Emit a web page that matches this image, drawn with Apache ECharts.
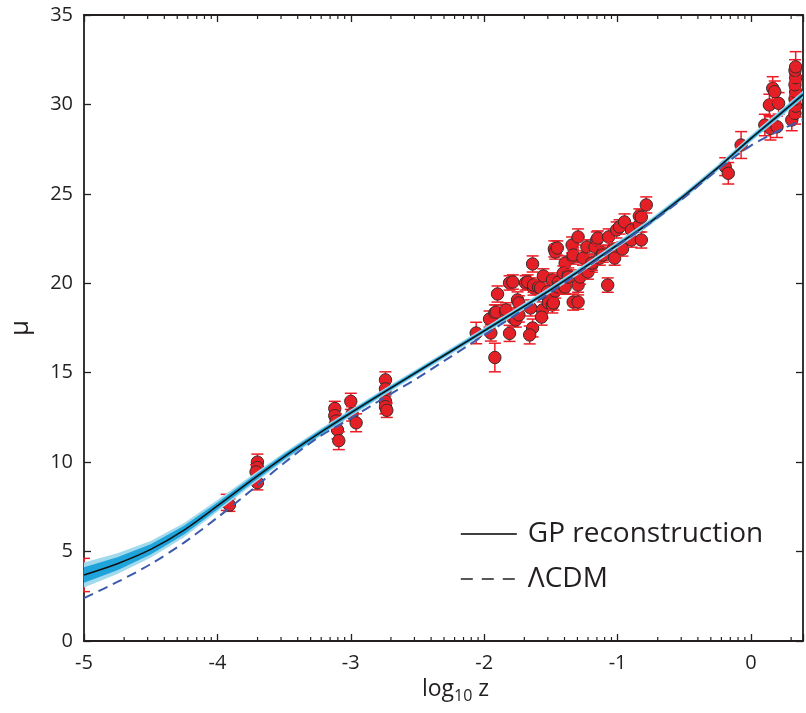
<!DOCTYPE html>
<html>
<head>
<meta charset="utf-8">
<title>GP reconstruction of mu(z)</title>
<script src="https://cdn.jsdelivr.net/npm/echarts@6.0.0/dist/echarts.min.js"></script>
<style>
  html, body { margin: 0; padding: 0; background: #fff; }
  #chart { width: 806px; height: 713px; }
</style>
</head>
<body>
<div id="chart"></div>
<script>
// curve sample positions (log10 z)
var curveX = [-5, -4.75, -4.5, -4.25, -4, -3.75, -3.5, -3.25, -3, -2.75, -2.5, -2.25, -2,
  -1.75, -1.5, -1.25, -1, -0.75, -0.5, -0.25, 0, 0.2, 0.39]
// GP mean and half widths of the 1 and 2 sigma bands
var gpMean = [3.69, 4.32, 5.12, 6.2, 7.55, 8.95, 10.3, 11.55, 12.75, 13.92, 15.06, 16.2, 17.34,
  18.48, 19.65, 20.88, 22.15, 23.45, 24.9, 26.45, 28.1, 29.35, 30.55]
var gpSig1 = [0.43, 0.36, 0.29, 0.25, 0.2, 0.17, 0.15, 0.13, 0.12, 0.11, 0.1, 0.1, 0.1,
  0.1, 0.1, 0.1, 0.1, 0.1, 0.1, 0.1, 0.11, 0.12, 0.13]
var gpSig2 = [0.7, 0.58, 0.47, 0.4, 0.33, 0.28, 0.24, 0.22, 0.2, 0.19, 0.18, 0.18, 0.18,
  0.18, 0.18, 0.18, 0.18, 0.18, 0.18, 0.18, 0.19, 0.2, 0.21]
// LCDM curve
var lcdm = [2.4, 3.3, 4.3, 5.5, 6.9, 8.4, 9.95, 11.35, 12.45, 13.6, 14.7, 15.9, 17.1,
  18.3, 19.5, 20.8, 22.1, 23.4, 24.8, 26.35, 27.7, 28.5, 29.15]

// observations: [log10 z, mu, error]
var obsData = [
  [-5.0, 3.69, 0.93],
  [-3.93, 7.75, 0.45], [-3.91, 7.6, 0.35],
  [-3.70, 10.0, 0.45], [-3.70, 9.7, 0.4], [-3.71, 9.45, 0.4], [-3.70, 8.85, 0.4],
  [-3.12, 13.0, 0.4], [-3.12, 12.6, 0.4], [-3.11, 12.3, 0.4], [-3.10, 11.8, 0.5], [-3.09, 11.2, 0.5],
  [-3.0, 13.4, 0.45], [-2.99, 12.7, 0.4], [-2.96, 12.2, 0.5],
  [-2.74, 14.6, 0.45], [-2.74, 14.1, 0.4], [-2.74, 13.4, 0.4], [-2.74, 13.1, 0.4], [-2.73, 12.9, 0.4],
  [-2.06, 17.22, 0.6], [-1.95, 17.22, 0.45], [-1.92, 15.85, 0.8], [-1.96, 18.0, 0.45],
  [-1.92, 18.34, 0.45], [-1.91, 18.39, 0.4], [-1.90, 19.4, 0.45], [-1.81, 17.2, 0.45],
  [-1.81, 20.02, 0.4], [-1.785, 20.07, 0.4], [-1.84, 18.39, 0.4], [-1.837, 18.51, 0.4],
  [-1.785, 18.06, 0.45], [-1.763, 17.95, 0.4], [-1.75, 19.07, 0.45], [-1.74, 18.23, 0.4],
  [-1.74, 18.9, 0.4], [-1.69, 20.02, 0.4], [-1.674, 20.07, 0.4], [-1.637, 21.08, 0.45],
  [-1.652, 18.62, 0.45], [-1.637, 17.5, 0.5], [-1.659, 17.11, 0.5], [-1.63, 19.74, 0.4],
  [-1.63, 19.9, 0.4], [-1.593, 19.79, 0.4], [-1.578, 19.74, 0.4], [-1.563, 18.51, 0.45],
  [-1.57, 18.11, 0.45], [-1.556, 20.41, 0.4], [-1.526, 19.51, 0.4], [-1.519, 19.18, 0.4],
  [-1.519, 18.9, 0.4], [-1.489, 20.18, 0.4], [-1.489, 18.79, 0.45], [-1.481, 18.9, 0.4],
  [-1.467, 19.57, 0.4], [-1.474, 21.92, 0.45], [-1.467, 21.75, 0.4], [-1.452, 21.97, 0.4],
  [-1.444, 20.07, 0.4], [-1.444, 19.79, 0.4], [-1.40, 19.85, 0.4], [-1.393, 21.13, 0.4],
  [-1.407, 20.57, 0.4], [-1.393, 19.79, 0.4], [-1.37, 20.46, 0.4], [-1.37, 20.35, 0.4],
  [-1.341, 22.14, 0.45], [-1.333, 21.47, 0.4], [-1.333, 21.58, 0.4], [-1.333, 18.95, 0.45],
  [-1.296, 22.59, 0.45], [-1.296, 19.9, 0.4], [-1.296, 18.95, 0.4], [-1.281, 20.35, 0.4],
  [-1.259, 21.41, 0.4], [-1.23, 22.03, 0.4], [-1.222, 20.63, 0.4], [-1.193, 21.02, 0.4],
  [-1.193, 21.13, 0.4], [-1.17, 22.03, 0.4], [-1.156, 22.42, 0.45], [-1.148, 22.53, 0.4],
  [-1.133, 21.41, 0.4], [-1.111, 21.69, 0.4], [-1.111, 21.58, 0.4], [-1.074, 19.9, 0.4],
  [-1.067, 22.59, 0.45], [-1.037, 21.86, 0.4], [-1.022, 21.41, 0.4], [-1.007, 22.98, 0.45],
  [-0.985, 23.15, 0.4], [-0.963, 21.92, 0.4], [-0.948, 23.43, 0.45], [-0.896, 22.42, 0.4],
  [-0.896, 22.98, 0.4], [-0.837, 23.26, 0.4], [-0.837, 23.76, 0.4], [-0.822, 22.42, 0.45],
  [-0.822, 23.7, 0.4], [-0.785, 24.38, 0.45],
  [-0.193, 26.52, 0.5], [-0.170, 26.15, 0.6], [-0.074, 27.73, 0.75],
  [0.104, 28.85, 0.6], [0.146, 28.66, 0.65], [0.195, 28.75, 0.6], [0.138, 29.97, 0.6],
  [0.207, 30.06, 0.6], [0.163, 30.9, 0.65], [0.178, 30.71, 0.6],
  [0.306, 29.13, 0.6], [0.33, 29.5, 0.6], [0.335, 29.9, 0.6], [0.33, 30.3, 0.6],
  [0.335, 30.7, 0.6], [0.33, 31.1, 0.6], [0.335, 31.5, 0.6], [0.33, 31.9, 0.6], [0.335, 32.1, 0.85]
]

// axis settings
var xMin = -5, xMax = 0.39
var yMin = 0, yMax = 35
var decades = [-5, -4, -3, -2, -1, 0]
var minorMult = [2, 3, 4, 5, 6, 7, 8, 9]

var ink = '#231f20'
var font = '"Open Sans", "Noto Sans", sans-serif'
var smooth = 0.3

// log style minor ticks on the x axes
var minorTicks = []
decades.forEach(function (d) {
  minorMult.forEach(function (m) {
    var v = d + Math.log10(m)
    if (v < xMax) minorTicks.push([v])
  })
})

function pair(arr) {
  return curveX.map(function (x, i) { return [x, arr[i]] })
}
var lo2 = gpMean.map(function (m, i) { return m - gpSig2[i] })
var hi2 = gpMean.map(function (m, i) { return m + gpSig2[i] })
var lo1 = gpMean.map(function (m, i) { return m - gpSig1[i] })
var hi1 = gpMean.map(function (m, i) { return m + gpSig1[i] })

// confidence band as one polygon, drawn from the first item
function bandSeries(name, lo, hi, color) {
  return {
    name: name,
    type: 'custom',
    silent: true,
    clip: true,
    data: curveX.map(function (x, i) { return [x, lo[i], hi[i]] }),
    renderItem: function (params, api) {
      if (params.dataIndex !== 0) return null
      var upper = [], lower = []
      for (var i = 0; i < curveX.length; i++) {
        upper.push(api.coord([curveX[i], hi[i]]))
        lower.unshift(api.coord([curveX[i], lo[i]]))
      }
      return {
        type: 'polygon',
        shape: { points: upper.concat(lower) },
        style: { fill: color }
      }
    }
  }
}

var chart = echarts.init(document.getElementById('chart'))

var axisLineStyle = { color: ink, width: 1.8 }
var tickStyle = { color: ink, width: 1.3 }

var option = {
  animation: false,
  backgroundColor: '#fff',
  textStyle: { fontFamily: font, color: ink },
  grid: { left: 83, top: 15, width: 728, height: 626 },
  legend: {
    left: 455,
    top: 515,
    orient: 'vertical',
    itemWidth: 56,
    itemHeight: 14,
    itemGap: 17,
    textStyle: { fontSize: 28, color: ink, fontFamily: font, padding: [0, 0, 0, 6] },
    data: [
      { name: 'GP reconstruction', itemStyle: { opacity: 0 }, lineStyle: { color: '#000', width: 1.6, type: 'solid' } },
      { name: 'ΛCDM', itemStyle: { opacity: 0 }, lineStyle: { color: ink, width: 1.6, type: [12, 9] } }
    ]
  },
  xAxis: [
    {
      type: 'value',
      min: xMin,
      max: xMax,
      interval: 1,
      axisLine: { onZero: false, lineStyle: axisLineStyle },
      axisTick: { inside: true, length: 7, lineStyle: tickStyle },
      axisLabel: {
        fontSize: 20,
        color: ink,
        margin: 12,
        formatter: function (v) { return Number.isInteger(v) ? String(v) : '' }
      },
      splitLine: { show: false },
      name: 'log{sub|10} z',
      nameLocation: 'middle',
      nameGap: 33,
      nameTextStyle: {
        fontSize: 23,
        color: ink,
        padding: [0, 0, 0, 24],
        rich: { sub: { fontSize: 16, color: ink, padding: [14, 0, 0, 0] } }
      }
    },
    {
      type: 'value',
      position: 'top',
      min: xMin,
      max: xMax,
      interval: 1,
      axisLine: { onZero: false, lineStyle: axisLineStyle },
      axisTick: { inside: true, length: 7, lineStyle: tickStyle },
      axisLabel: { show: false },
      splitLine: { show: false }
    }
  ],
  yAxis: [
    {
      type: 'value',
      min: yMin,
      max: yMax,
      interval: 5,
      axisLine: { show: true, onZero: false, lineStyle: axisLineStyle },
      axisTick: { show: true, inside: true, length: 7, lineStyle: tickStyle },
      axisLabel: { fontSize: 20, color: ink, margin: 11 },
      splitLine: { show: false },
      name: 'μ',
      nameLocation: 'middle',
      nameGap: 50,
      nameTextStyle: { fontSize: 26, color: ink }
    },
    {
      type: 'value',
      position: 'right',
      min: yMin,
      max: yMax,
      interval: 5,
      axisLine: { show: true, onZero: false, lineStyle: axisLineStyle },
      axisTick: { show: true, inside: true, length: 7, lineStyle: tickStyle },
      axisLabel: { show: false },
      splitLine: { show: false }
    }
  ],
  series: [
    {
      // data points with error bars
      name: 'obs',
      type: 'custom',
      clip: true,
      silent: true,
      data: obsData,
      renderItem: function (params, api) {
        var x = api.value(0), y = api.value(1), e = api.value(2)
        var c = api.coord([x, y])
        var t = api.coord([x, y + e])
        var b = api.coord([x, y - e])
        var bar = { stroke: '#ed1c24', lineWidth: 1.5 }
        return {
          type: 'group',
          children: [
            { type: 'line', shape: { x1: c[0], y1: t[1], x2: c[0], y2: b[1] }, style: bar },
            { type: 'line', shape: { x1: c[0] - 6, y1: t[1], x2: c[0] + 6, y2: t[1] }, style: bar },
            { type: 'line', shape: { x1: c[0] - 6, y1: b[1], x2: c[0] + 6, y2: b[1] }, style: bar },
            { type: 'circle', shape: { cx: c[0], cy: c[1], r: 6.2 }, style: { fill: '#e41f26', stroke: '#3a2c2c', lineWidth: 1 } }
          ]
        }
      }
    },
    bandSeries('band2', lo2, hi2, '#a3d9ec'),
    bandSeries('band1', lo1, hi1, '#1ea3da'),
    {
      name: 'GP reconstruction', type: 'line', data: pair(gpMean), symbol: 'none', smooth: smooth,
      lineStyle: { color: '#111', width: 1.5 }
    },
    {
      name: 'ΛCDM', type: 'line', data: pair(lcdm), symbol: 'none', smooth: smooth,
      lineStyle: { color: '#3b5aab', width: 2, type: [10, 6] }
    },
    {
      // minor ticks, bottom and top
      name: 'minor', type: 'custom', silent: true, clip: false, data: minorTicks,
      renderItem: function (params, api) {
        var v = api.value(0)
        var b = api.coord([v, yMin])
        var t = api.coord([v, yMax])
        var st = { stroke: ink, lineWidth: 1.2 }
        return {
          type: 'group',
          children: [
            { type: 'line', shape: { x1: b[0], y1: b[1], x2: b[0], y2: b[1] - 4 }, style: st },
            { type: 'line', shape: { x1: t[0], y1: t[1], x2: t[0], y2: t[1] + 4 }, style: st }
          ]
        }
      }
    }
  ]
}

chart.setOption(option)
</script>
</body>
</html>
